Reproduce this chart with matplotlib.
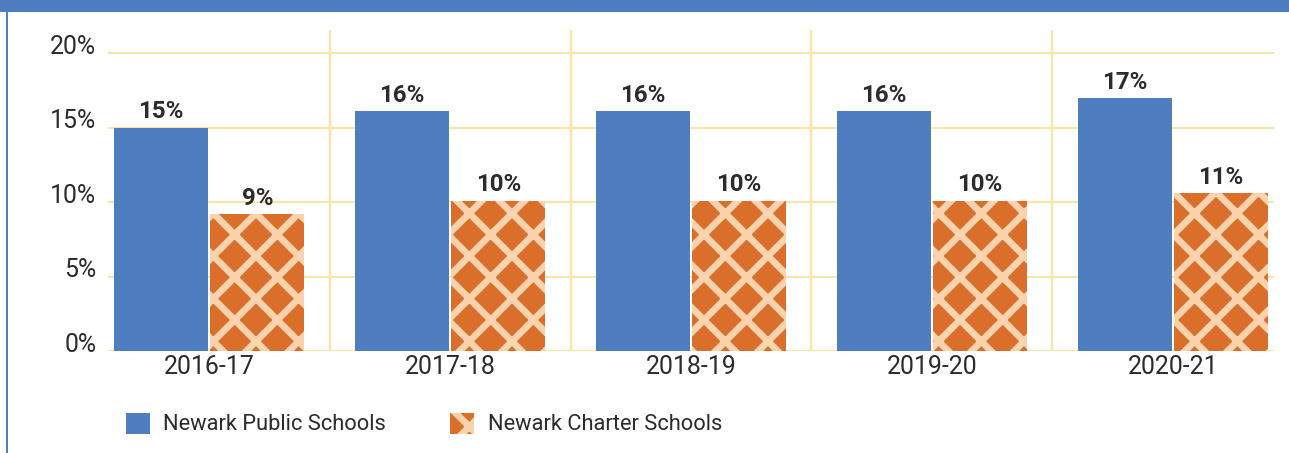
import matplotlib
matplotlib.use("Agg")
import matplotlib.pyplot as plt
import matplotlib.transforms as mtransforms
from matplotlib.patches import Rectangle, Patch
import numpy as np

categories = ["2016-17", "2017-18", "2018-19", "2019-20", "2020-21"]
public_vals = [15.0, 16.1, 16.1, 16.1, 17.0]
charter_vals = [9.2, 10.1, 10.1, 10.1, 10.6]
series_names = ["Newark Public Schools", "Newark Charter Schools"]
yticks = [0, 5, 10, 15, 20]

BLUE = "#4E7EC0"
ORANGE = "#DA6F2B"
PEACH = "#F9D3AD"
GRID = "#F6E7A6"
TEXT = "#2B2B2B"

plt.rcParams["font.family"] = ["Roboto", "DejaVu Sans"]
plt.rcParams["hatch.linewidth"] = 3.8

DPI = 128
W, H = 1289, 453
fig = plt.figure(figsize=(W / DPI, H / DPI), dpi=DPI)
fig.patch.set_facecolor("white")

ax_left, ax_right = 108 / W, 1274 / W
ax_bottom, ax_top = 1 - 351 / H, 1 - 30 / H
ax = fig.add_axes([ax_left, ax_bottom, ax_right - ax_left, ax_top - ax_bottom])

x = np.arange(len(categories))
bw = 0.39
off = 0.2
b1 = ax.bar(x - off, public_vals, bw, color=BLUE, linewidth=0, zorder=3)
b2 = ax.bar(x + off, charter_vals, bw, facecolor=ORANGE, edgecolor=PEACH,
            hatch="x", linewidth=0, zorder=3)

for bars, vals in ((b1, public_vals), (b2, charter_vals)):
    for r, v in zip(bars, vals):
        ax.annotate(f"{v:.0f}%", (r.get_x() + r.get_width() / 2, v),
                    xytext=(0, 2.3), textcoords="offset points",
                    ha="center", va="bottom", fontsize=13.6, fontweight="bold",
                    color=TEXT, zorder=4)

ax.set_xlim(-0.42, 4.42)
ymax = 20 * (351 - 30) / (351 - 53)
ax.set_ylim(0, ymax)
ax.set_yticks(yticks)
ax.set_yticklabels([f"{t}%" for t in yticks])
ax.set_xticks(x)
ax.set_xticklabels(categories)
ax.tick_params(axis="both", length=0, labelsize=14, colors=TEXT)
ax.tick_params(axis="y", pad=6.5)
ax.tick_params(axis="x", pad=2.5)

shift = mtransforms.ScaledTranslation(0, 5.0 / 72, fig.dpi_scale_trans)
for lbl in ax.get_yticklabels():
    lbl.set_transform(lbl.get_transform() + shift)

for t in yticks:
    ax.axhline(t, color=GRID, linewidth=1.2, zorder=1)
for s in x[:-1] + 0.5:
    ax.axvline(s, color=GRID, linewidth=1.3, zorder=1)

for sp in ax.spines.values():
    sp.set_visible(False)

# frame decoration: top band and left rule
fig.add_artist(Rectangle((0, 1 - 12 / H), 1, 12 / H, transform=fig.transFigure,
                         facecolor=BLUE, edgecolor="none"))
fig.add_artist(Rectangle((6 / W, 0), 2 / W, 1, transform=fig.transFigure,
                         facecolor=BLUE, edgecolor="none"))

handles = [Patch(facecolor=BLUE, linewidth=0),
           Patch(facecolor=ORANGE, edgecolor=PEACH, hatch="x", linewidth=0)]
fig.legend(handles, series_names, loc="center left",
           bbox_to_anchor=(126 / W, 1 - 424 / H), bbox_transform=fig.transFigure,
           ncol=2, frameon=False, fontsize=12.3, handlelength=1.1,
           handleheight=1.1, handletextpad=0.6, columnspacing=2.95,
           borderpad=0, borderaxespad=0, labelcolor=TEXT)

fig.savefig("out.png", dpi=DPI, facecolor="white")
